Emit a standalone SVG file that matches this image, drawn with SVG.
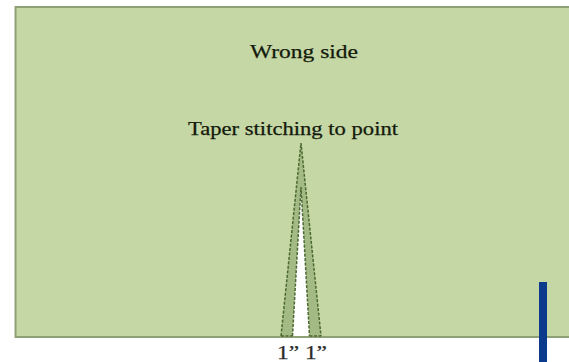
<svg xmlns="http://www.w3.org/2000/svg" width="569" height="362" viewBox="0 0 569 362">
<style>
.lbl{font-family:"Liberation Serif","Times New Roman",serif;fill:#141a0c;stroke:#141a0c;stroke-width:0.25;}
.stitch{fill:none;stroke:#4a6830;stroke-width:1.5;stroke-dasharray:3 1.5;}
.strip{fill:#a3ba84;}
</style>
<rect x="0" y="0" width="569" height="362" fill="#ffffff"/>
<g id="fabric">
<rect x="15.5" y="7" width="560" height="330" fill="#c5d7a5" stroke="#8ea176" stroke-width="2"/>
</g>
<g id="labels">
<text class="lbl" x="250" y="58" font-size="19" textLength="108" lengthAdjust="spacingAndGlyphs">Wrong side</text>
<text class="lbl" x="188" y="135" font-size="18" textLength="210" lengthAdjust="spacingAndGlyphs">Taper stitching to point</text>
<text class="lbl" x="277" y="359" font-size="19" style="fill:#2a2a2a;stroke:#2a2a2a" textLength="50" lengthAdjust="spacingAndGlyphs">1” 1”</text>
</g>
<g id="dart">
<polygon points="281,336 301,143 321,336" class="strip"/>
<polygon points="292.5,336 301,187 309.5,336" fill="#ffffff"/>
<polyline class="stitch" points="281,336 301,143 321,336"/>
<polyline class="stitch" points="292.5,336 301,187 309.5,336"/>
<line class="stitch" x1="281" y1="336" x2="292.5" y2="336"/>
<line class="stitch" x1="309.5" y1="336" x2="321" y2="336"/>
</g>
<g id="marker">
<rect x="539" y="282" width="8" height="80" fill="#0b3a8c"/>
</g>
</svg>
